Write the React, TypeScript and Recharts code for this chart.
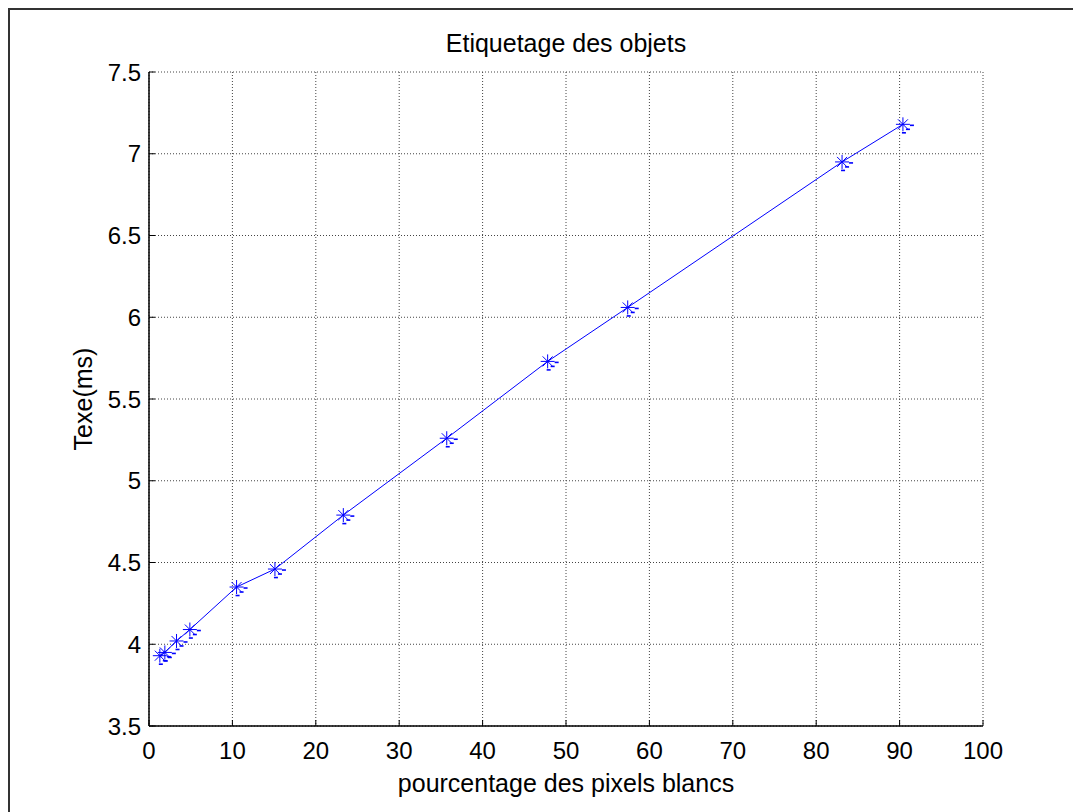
import React from "react";
import { LineChart, Line, XAxis, YAxis, CartesianGrid } from "recharts";

// pourcentage des pixels blancs vs Texe(ms)
const whitePct = [1.3, 1.9, 3.3, 4.9, 10.5, 15.1, 23.3, 35.7, 47.8, 57.4, 83.1, 90.4];
const texeMs = [3.93, 3.95, 4.02, 4.09, 4.35, 4.46, 4.79, 5.26, 5.73, 6.06, 6.95, 7.18];
const xTicks = [0, 10, 20, 30, 40, 50, 60, 70, 80, 90, 100];
const yTicks = [3.5, 4, 4.5, 5, 5.5, 6, 6.5, 7, 7.5];

const data = whitePct.map((pct, i) => ({ pct, texe: texeMs[i] }));

const FONT = '"Liberation Sans", Arial, Helvetica, sans-serif';
const TICK = 6;

const BottomTick = (p: any) => (
  <g>
    <line x1={p.x} y1={p.y} x2={p.x} y2={p.y - TICK} stroke="#000" />
    <text x={p.x} y={p.y + 33} textAnchor="middle" fontSize={24} fontFamily={FONT} fill="#000">
      {p.payload.value}
    </text>
  </g>
);

const TopTick = (p: any) => (
  <line x1={p.x} y1={p.y} x2={p.x} y2={p.y + TICK} stroke="#000" />
);

const LeftTick = (p: any) => (
  <g>
    <line x1={p.x} y1={p.y} x2={p.x + TICK} y2={p.y} stroke="#000" />
    <text x={p.x - 8} y={p.y + 8.5} textAnchor="end" fontSize={24} fontFamily={FONT} fill="#000">
      {String(p.payload.value)}
    </text>
  </g>
);

const RightTick = (p: any) => (
  <line x1={p.x} y1={p.y} x2={p.x - TICK} y2={p.y} stroke="#000" />
);

// matlab '*' marker
const Star = (p: any) => {
  const { cx, cy } = p;
  if (cx == null || cy == null) return <g key={p.index} />;
  const r = 7;
  const d = 5;
  return (
    <g key={p.index} stroke="#0000ff" strokeWidth={1} fill="none">
      <line x1={cx - r} y1={cy} x2={cx + r} y2={cy} />
      <line x1={cx} y1={cy - r} x2={cx} y2={cy + r} />
      <line x1={cx - d} y1={cy - d} x2={cx + d} y2={cy + d} />
      <line x1={cx - d} y1={cy + d} x2={cx + d} y2={cy - d} />
      <g strokeWidth={1.6}>
        <line x1={cx + 7} y1={cy + 1} x2={cx + 11} y2={cy + 1} />
        <line x1={cx + 3} y1={cy + 5} x2={cx + 7} y2={cy + 5} />
        <line x1={cx - 1} y1={cy + 8.5} x2={cx + 3} y2={cy + 8.5} />
      </g>
    </g>
  );
};

const XLabel = (p: any) => {
  const vb = p.viewBox || {};
  return (
    <text x={vb.x + vb.width / 2} y={vb.y + 66} textAnchor="middle" fontSize={25} fontFamily={FONT} fill="#000">
      pourcentage des pixels blancs
    </text>
  );
};

const YLabel = (p: any) => {
  const vb = p.viewBox || {};
  const cx = 82;
  const cy = vb.y + vb.height / 2;
  return (
    <text
      x={cx}
      y={cy}
      transform={`rotate(-90, ${cx}, ${cy})`}
      textAnchor="middle"
      fontSize={25}
      fontFamily={FONT}
      fill="#000"
    >
      Texe(ms)
    </text>
  );
};

export default function App() {
  return (
    <div
      style={{
        position: "fixed",
        left: 8,
        top: 8,
        width: 1063,
        height: 802,
        overflow: "hidden",
        borderTop: "2px solid #333",
        borderLeft: "2px solid #333",
        background: "#fff",
        fontFamily: FONT,
      }}
    >
      <div
        style={{
          position: "absolute",
          top: 21,
          left: 139,
          width: 834,
          textAlign: "center",
          fontSize: 25,
          lineHeight: "25px",
          color: "#000",
        }}
      >
        Etiquetage des objets
      </div>
      <LineChart width={1063} height={802} data={data} margin={{ top: 62, right: 90, bottom: 0, left: 0 }}>
        <CartesianGrid stroke="#444" strokeDasharray="1 2" />
        <XAxis
          dataKey="pct"
          type="number"
          domain={[0, 100]}
          ticks={xTicks}
          height={86}
          tickSize={0}
          tickMargin={0}
          tickLine={false}
          tick={BottomTick}
          axisLine={{ stroke: "#000", strokeWidth: 1.5 }}
          label={{ content: XLabel }}
          interval={0}
        />
        <XAxis
          xAxisId="top"
          orientation="top"
          type="number"
          dataKey="pct"
          domain={[0, 100]}
          ticks={xTicks}
          height={0}
          tickSize={0}
          tickMargin={0}
          tickLine={false}
          tick={TopTick}
          axisLine={{ stroke: "#000", strokeWidth: 1.5 }}
          interval={0}
        />
        <YAxis
          type="number"
          domain={[3.5, 7.5]}
          ticks={yTicks}
          width={139}
          tickSize={0}
          tickMargin={0}
          tickLine={false}
          tick={LeftTick}
          axisLine={{ stroke: "#000", strokeWidth: 1.5 }}
          label={{ content: YLabel }}
          interval={0}
        />
        <YAxis
          yAxisId="right"
          orientation="right"
          type="number"
          domain={[3.5, 7.5]}
          ticks={yTicks}
          width={0}
          tickSize={0}
          tickMargin={0}
          tickLine={false}
          tick={RightTick}
          axisLine={{ stroke: "#000", strokeWidth: 1.5 }}
          interval={0}
        />
        <Line
          type="linear"
          dataKey="texe"
          stroke="#0000ff"
          strokeWidth={1}
          dot={Star}
          activeDot={false}
          isAnimationActive={false}
        />
      </LineChart>
    </div>
  );
}
